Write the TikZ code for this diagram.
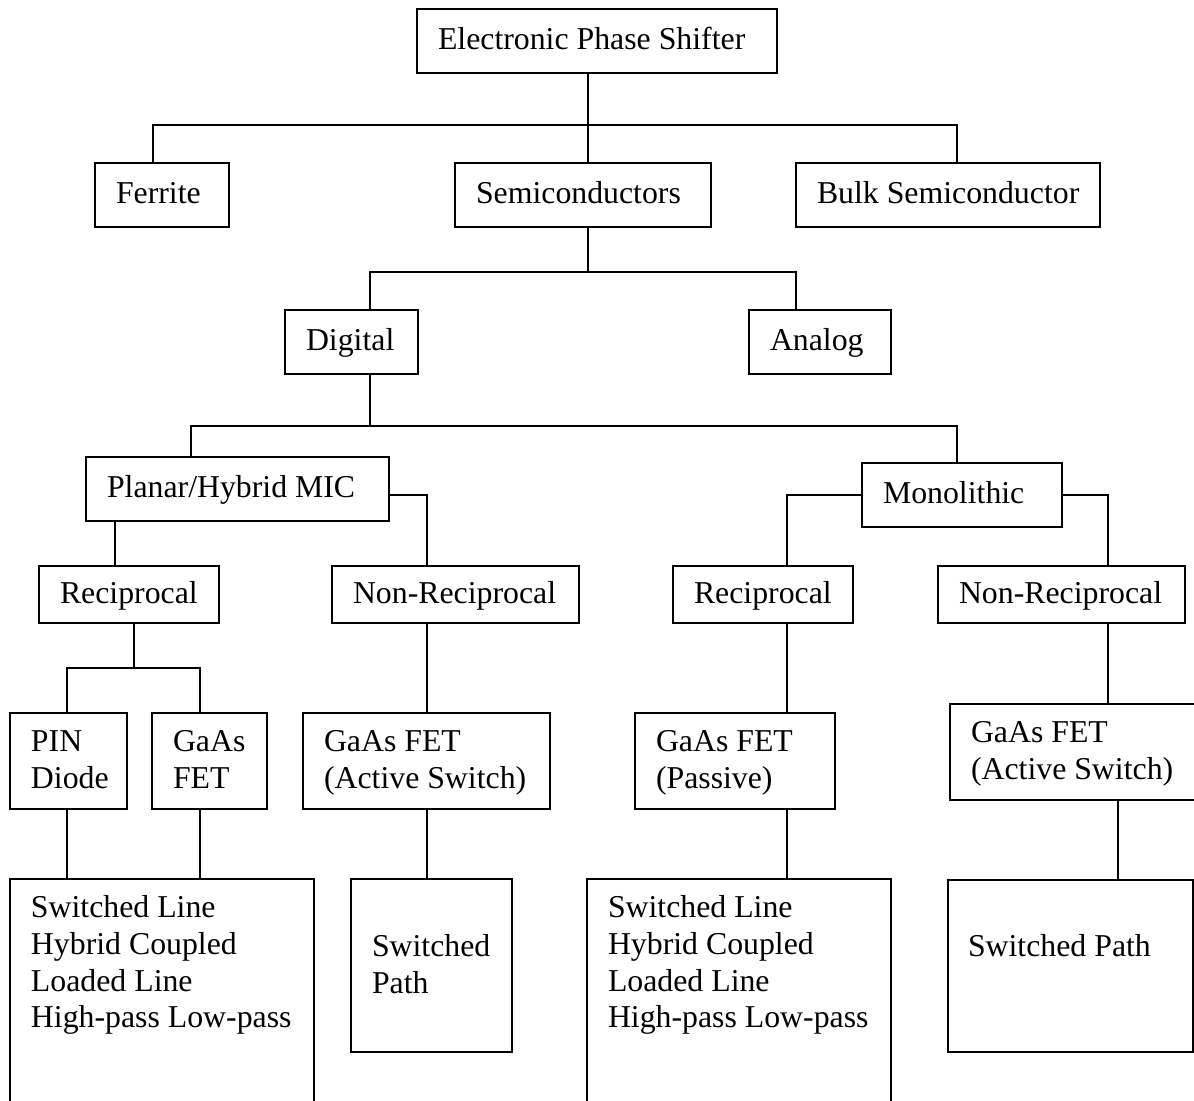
\documentclass[tikz,border=0pt]{standalone}
\usepackage{fontspec}
\setmainfont{Liberation Serif}
% one drawing unit = 0.02cm
\newlength\pxu
\setlength\pxu{0.02cm}
% line strut: 0.78em above, 0.22em below the baseline
\newcommand\lnstrut{\rule[-0.22em]{0pt}{1em}}
% box text, set 21 units in from the left edge of a box #1 units wide
\newcommand\inbox[2]{\hspace*{21\pxu}\parbox{\dimexpr#1\pxu-21\pxu\relax}{\raggedright#2}}
\tikzset{
  wire/.style={line width=1.1pt, line join=miter},
  box/.style={draw, line width=1.1pt, rectangle, anchor=north west,
    inner sep=0pt, outer sep=0pt,
    font=\fontsize{18.1pt}{20.9pt}\selectfont},
  sz/.style 2 args={minimum width=#1\pxu, minimum height=#2\pxu},
  txt/.style={anchor=north west, inner sep=0pt, outer sep=0pt, align=left,
    font=\fontsize{18.1pt}{20.9pt}\selectfont},
}
\begin{document}
\begin{tikzpicture}[x=0.02cm, y=-0.02cm]
\fill[white] (0,0) rectangle (1194,1100);
\useasboundingbox (0,0) rectangle (1194,1100);
\begin{scope}
\clip (0,0) rectangle (1194,1100);

% ---- boxes ----
\node[box, sz={360}{64}] (eps) at (417,9) {\inbox{360}{\lnstrut Electronic Phase Shifter}};
\node[box, sz={134}{64}] (fer) at (95,163) {\inbox{134}{\lnstrut Ferrite}};
\node[box, sz={256}{64}] (semi) at (455,163) {\inbox{256}{\lnstrut Semiconductors}};
\node[box, sz={304}{64}] (bulk) at (796,163) {\inbox{304}{\lnstrut Bulk Semiconductor}};
\node[box, sz={133}{64}] (dig) at (285,310) {\inbox{133}{\lnstrut Digital}};
\node[box, sz={142}{64}] (ana) at (749,310) {\inbox{142}{\lnstrut Analog}};
\node[box, sz={303}{64}] (pla) at (86,457) {\inbox{303}{\lnstrut Planar/Hybrid MIC}};
\node[box, sz={200}{64}] (mono) at (862,463) {\inbox{200}{\lnstrut Monolithic}};
\node[box, sz={180}{57}] (rec1) at (39,566) {\inbox{180}{\lnstrut Reciprocal}};
\node[box, sz={247}{57}] (nrec1) at (332,566) {\inbox{247}{\lnstrut Non-Reciprocal}};
\node[box, sz={180}{57}] (rec2) at (673,566) {\inbox{180}{\lnstrut Reciprocal}};
\node[box, sz={247}{57}] (nrec2) at (938,566) {\inbox{247}{\lnstrut Non-Reciprocal}};
\node[box, sz={117}{96}] (pin) at (10,713) {\inbox{117}{\lnstrut PIN\\\lnstrut Diode}};
\node[box, sz={115}{96}] (gfet1) at (152,713) {\inbox{115}{\lnstrut GaAs\\\lnstrut FET}};
\node[box, sz={247}{96}] (gact1) at (303,713) {\inbox{247}{\lnstrut GaAs FET\\\lnstrut (Active Switch)}};
\node[box, sz={200}{96}] (gpas) at (635,713) {\inbox{200}{\lnstrut GaAs FET\\\lnstrut (Passive)}};
\node[box, sz={270}{96}] (gact2) at (950,704) {\inbox{270}{\lnstrut GaAs FET\\\lnstrut (Active Switch)}};

\node[box, sz={304}{260}] (big1) at (10,879) {};
\node[txt] (big1t) at (31,893) {\lnstrut Switched Line\\\lnstrut Hybrid Coupled\\\lnstrut Loaded Line\\\lnstrut High-pass Low-pass};
\node[box, sz={161}{173}] (sp1) at (351,879) {};
\node[txt] (sp1t) at (372,932) {\lnstrut Switched\\\lnstrut Path};
\node[box, sz={304}{260}] (big2) at (587,879) {};
\node[txt] (big2t) at (608,893) {\lnstrut Switched Line\\\lnstrut Hybrid Coupled\\\lnstrut Loaded Line\\\lnstrut High-pass Low-pass};
\node[box, sz={245}{172}] (sp2) at (948,880) {};
\node[txt] (sp2t) at (968,932) {\lnstrut Switched Path};

% ---- junctions ----
\coordinate (j1) at (588,125);
\coordinate (j1l) at (153,125);
\coordinate (j1r) at (957,125);
\coordinate (j2) at (588,272);
\coordinate (j2l) at (370,272);
\coordinate (j2r) at (796,272);
\coordinate (j3) at (370,426);
\coordinate (j3l) at (191,426);
\coordinate (j3r) at (957,426);
\coordinate (k1) at (115,540);
\coordinate (k2) at (427,495);
\coordinate (k3) at (134,668);
\coordinate (k3l) at (67,668);
\coordinate (k3r) at (200,668);
\coordinate (m1) at (787,495);
\coordinate (m2) at (1108,495);
\coordinate (m4) at (1118,840);

% ---- connectors ----
\draw[wire] (j1 |- eps.south) -- (j1 |- semi.north);
\draw[wire] (j1l |- fer.north) -- (j1l) -- (j1r) -- (j1r |- bulk.north);
\draw[wire] (j2 |- semi.south) -- (j2);
\draw[wire] (j2l |- dig.north) -- (j2l) -- (j2r) -- (j2r |- ana.north);
\draw[wire] (j3 |- dig.south) -- (j3);
\draw[wire] (j3l |- pla.north) -- (j3l) -- (j3r) -- (j3r |- mono.north);

\draw[wire] (k1 |- pla.south) -- (k1 |- rec1.north);
\draw[wire] (pla.east |- k2) -- (k2) -- (k2 |- nrec1.north);
\draw[wire] (k3 |- rec1.south) -- (k3);
\draw[wire] (k3l |- pin.north) -- (k3l) -- (k3r) -- (k3r |- gfet1.north);
\draw[wire] (k2 |- nrec1.south) -- (k2 |- gact1.north);
\draw[wire] (k3l |- pin.south) -- (k3l |- big1.north);
\draw[wire] (k3r |- gfet1.south) -- (k3r |- big1.north);
\draw[wire] (k2 |- gact1.south) -- (k2 |- sp1.north);

\draw[wire] (mono.west |- m1) -- (m1) -- (m1 |- rec2.north);
\draw[wire] (mono.east |- m2) -- (m2) -- (m2 |- nrec2.north);
\draw[wire] (m1 |- rec2.south) -- (m1 |- gpas.north);
\draw[wire] (m1 |- gpas.south) -- (m1 |- big2.north);
\draw[wire] (m2 |- nrec2.south) -- (m2 |- gact2.north);
\draw[wire] (m4 |- gact2.south) -- (m4 |- sp2.north);
\end{scope}
\end{tikzpicture}
\end{document}
